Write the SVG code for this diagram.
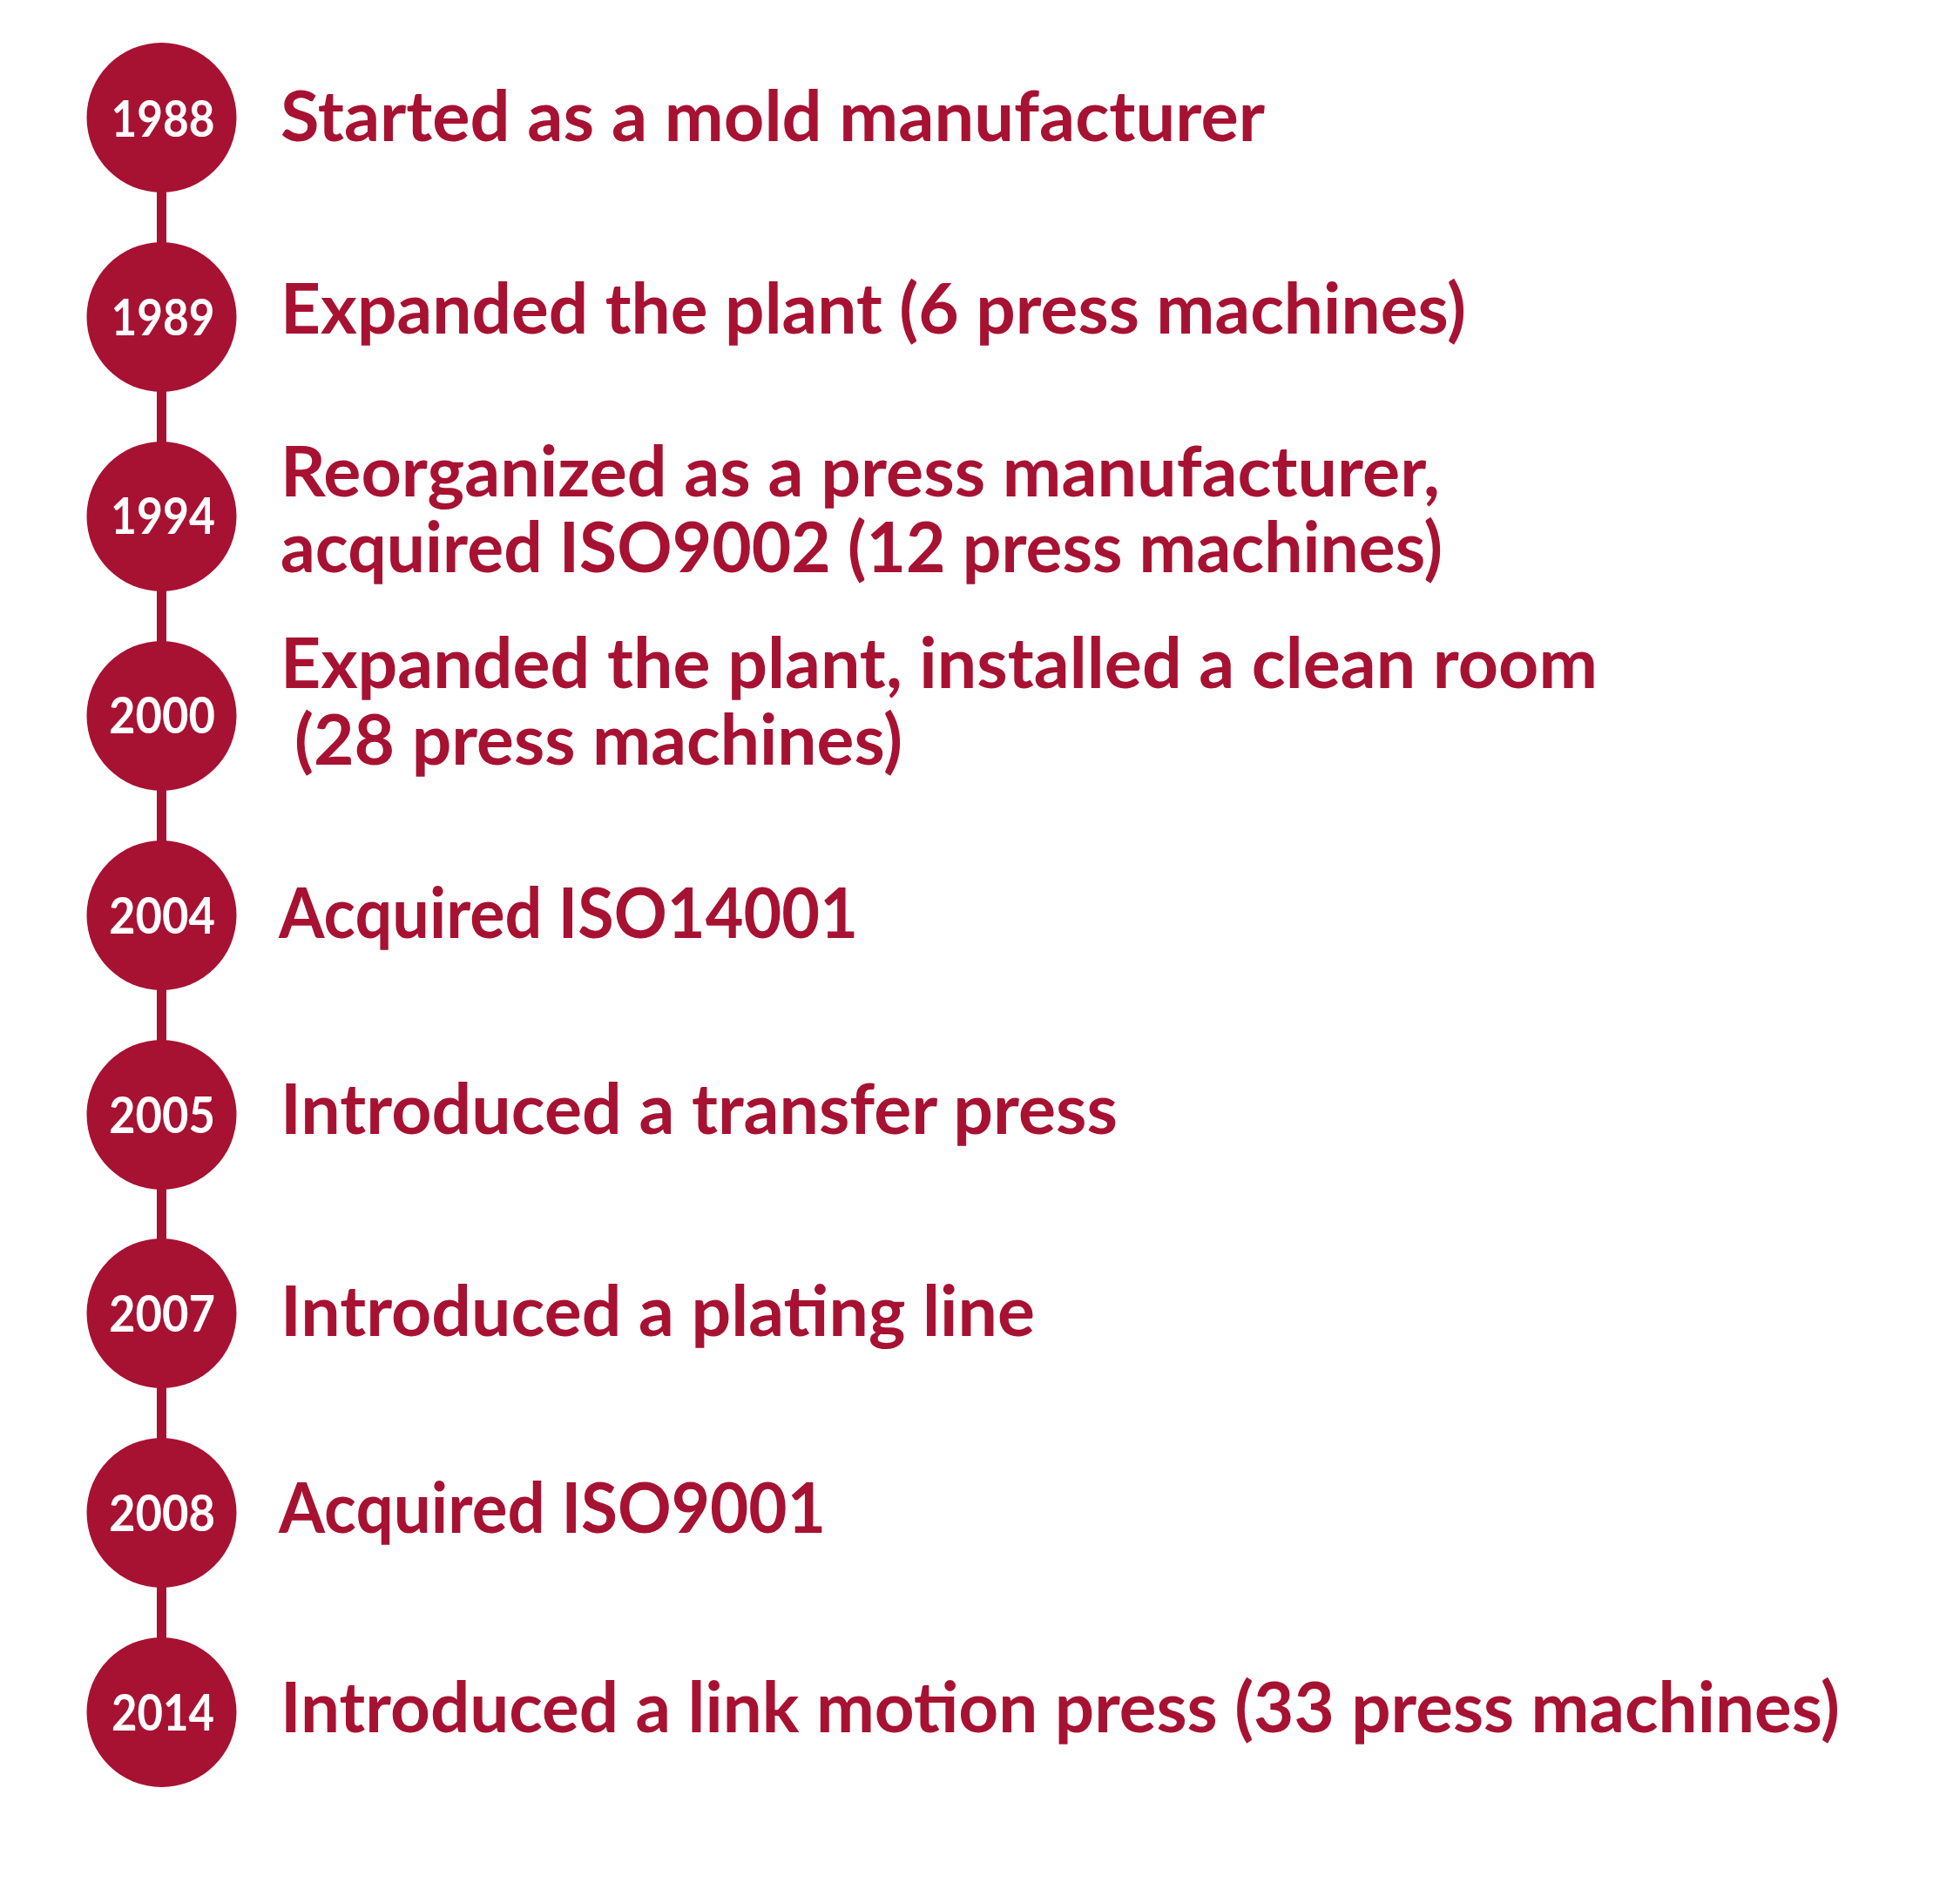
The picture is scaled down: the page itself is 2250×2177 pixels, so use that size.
<svg xmlns="http://www.w3.org/2000/svg" width="2250" height="2177" viewBox="0 0 2250 2177">
<style>
.dot{fill:#A81232}
.yr{font-family:Lato,"Noto Sans","Liberation Sans",sans-serif;font-weight:700;font-size:58px;fill:#ffffff;text-anchor:middle}
.lbl{font-family:Lato,"Noto Sans","Liberation Sans",sans-serif;font-weight:700;font-size:80px;fill:#A81232}
.conn{stroke:#A81232;stroke-width:11;fill:none}
</style>
<rect width="2250" height="2177" fill="#ffffff"/>
<g id="connectors">
<line class="conn" x1="185.5" y1="135" x2="185.5" y2="1966"/>
</g>
<g id="n1988"><circle class="dot" cx="185.5" cy="135" r="86"/><text class="yr" x="187" y="157" textLength="119" lengthAdjust="spacingAndGlyphs">1988</text><text class="lbl" x="322" y="162" textLength="1130" lengthAdjust="spacingAndGlyphs">Started as a mold manufacturer</text></g>
<g id="n1989"><circle class="dot" cx="185.5" cy="364" r="86"/><text class="yr" x="187" y="385" textLength="119" lengthAdjust="spacingAndGlyphs">1989</text><text class="lbl" x="322" y="383" textLength="1361" lengthAdjust="spacingAndGlyphs">Expanded the plant (6 press machines)</text></g>
<g id="n1994"><circle class="dot" cx="185.5" cy="593" r="86"/><text class="yr" x="187" y="613" textLength="120" lengthAdjust="spacingAndGlyphs">1994</text><text class="lbl" x="322" y="570" textLength="1331" lengthAdjust="spacingAndGlyphs">Reorganized as a press manufacturer,</text><text class="lbl" x="322" y="657" textLength="1334" lengthAdjust="spacingAndGlyphs">acquired ISO9002 (12 press machines)</text></g>
<g id="n2000"><circle class="dot" cx="185.5" cy="822" r="86"/><text class="yr" x="186" y="842" textLength="122" lengthAdjust="spacingAndGlyphs">2000</text><text class="lbl" x="322" y="790" textLength="1512" lengthAdjust="spacingAndGlyphs">Expanded the plant, installed a clean room</text><text class="lbl" x="338" y="878" textLength="698" lengthAdjust="spacingAndGlyphs">(28 press machines)</text></g>
<g id="n2004"><circle class="dot" cx="185.5" cy="1051" r="86"/><text class="yr" x="186" y="1072" textLength="122" lengthAdjust="spacingAndGlyphs">2004</text><text class="lbl" x="320" y="1077" textLength="665" lengthAdjust="spacingAndGlyphs">Acquired ISO14001</text></g>
<g id="n2005"><circle class="dot" cx="185.5" cy="1280" r="86"/><text class="yr" x="186" y="1301" textLength="122" lengthAdjust="spacingAndGlyphs">2005</text><text class="lbl" x="322" y="1302" textLength="961" lengthAdjust="spacingAndGlyphs">Introduced a transfer press</text></g>
<g id="n2007"><circle class="dot" cx="185.5" cy="1508" r="86"/><text class="yr" x="186" y="1529" textLength="122" lengthAdjust="spacingAndGlyphs">2007</text><text class="lbl" x="322" y="1534" textLength="866" lengthAdjust="spacingAndGlyphs">Introduced a plating line</text></g>
<g id="n2008"><circle class="dot" cx="185.5" cy="1737" r="86"/><text class="yr" x="186" y="1758" textLength="122" lengthAdjust="spacingAndGlyphs">2008</text><text class="lbl" x="320" y="1760" textLength="628" lengthAdjust="spacingAndGlyphs">Acquired ISO9001</text></g>
<g id="n2014"><circle class="dot" cx="185.5" cy="1966" r="86"/><text class="yr" x="187" y="1987" textLength="118" lengthAdjust="spacingAndGlyphs">2014</text><text class="lbl" x="322" y="1989" textLength="1790" lengthAdjust="spacingAndGlyphs">Introduced a link motion press (33 press machines)</text></g>
</svg>
